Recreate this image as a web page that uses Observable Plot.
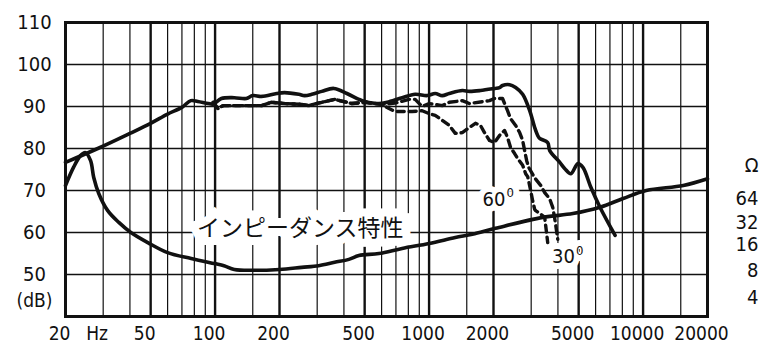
<!DOCTYPE html>
<html><head><meta charset="utf-8">
<script src="https://cdn.jsdelivr.net/npm/d3@7"></script>
<script src="https://cdn.jsdelivr.net/npm/@observablehq/plot@0.6"></script>
<style>body{margin:0;background:#fff} #chart{width:780px;height:361px}</style>
</head><body><div id="chart"></div>
<script>
const FONT = "'Liberation Sans Narrow','Arial Narrow','DejaVu Sans Condensed',sans-serif";
const CJK = "'Noto Sans CJK JP','Noto Sans CJK SC',sans-serif";

// axes
const xTicks = [20, 30, 50, 100, 200, 500, 1000, 2000, 5000, 10000, 20000];
const xTickLabels = ["20", "Hz", "50", "100", "200", "500", "1000", "2000", "5000", "10000", "20000"];
const yTicks = [50, 60, 70, 80, 90, 100, 110];
const yGrid = [50, 60, 70, 80, 90, 100];
const gridThin = [30, 40, 60, 70, 80, 90, 150, 300, 400, 600, 700, 800, 900, 1500, 3000, 4000, 6000, 7000, 8000, 9000, 15000];
const gridThick = [50, 100, 200, 500, 1000, 2000, 5000, 10000];
const ohmLabels = ["Ω", "64", "32", "16", "8", "4"];
const ohmLevels = [76, 68.1, 62.4, 57.1, 51, 44.5];

// on-axis frequency response (dB)
const respFreq = [20, 28.3, 40, 50, 60, 70, 77, 83, 93, 98, 107, 123, 140, 150, 165, 194, 211, 246, 262, 283, 315, 359, 413, 470, 501, 583, 636, 748, 861, 980, 1068, 1152, 1243, 1430, 1543, 1738, 2022, 2134, 2204, 2378, 2538, 2737, 2952, 3115, 3218, 3288, 3584, 3662, 4081, 4309, 4599, 4960, 5234, 5708, 6290, 7400];
const respDb = [76.7, 80, 83.6, 86, 88.2, 89.8, 91.4, 91.2, 90.7, 90.6, 91.9, 92.1, 91.9, 92.6, 92.4, 93.1, 93.3, 92.9, 92.6, 92.9, 93.6, 94.3, 93.1, 91.7, 91.2, 90.7, 91, 92.1, 92.9, 92.6, 93.1, 92.6, 93.1, 93.8, 93.6, 93.8, 94.3, 94.5, 95, 95.2, 94.5, 92.9, 89, 85, 83.1, 82.4, 81.4, 79.5, 76.7, 75.2, 74, 76.4, 75.5, 70.7, 66, 59.3];

// 30 degree response
const r30Freq = [98, 103, 109, 140, 165, 183, 211, 254, 274, 315, 362, 436, 501, 602, 693, 807, 861, 928, 1001, 1152, 1243, 1430, 1543, 1916, 2022, 2204, 2326, 2404, 2538, 2650, 2737, 2796, 2858, 2920, 3115, 3324, 3470, 3662, 3783, 3866, 3993];
const r30Db = [91, 89.5, 90.2, 90.2, 90.2, 91, 90.7, 90.5, 90.2, 91, 91.7, 90.7, 91, 90.5, 90.8, 91.7, 91.7, 90, 90.7, 90.2, 91, 91.4, 90.7, 91.4, 91.9, 91.9, 89, 87.1, 85.5, 83.8, 81.9, 79.5, 77.1, 75.5, 73, 71.2, 69.5, 68, 66, 63.3, 58.4];

// 60 degree response
const r60Freq = [98, 103, 109, 140, 165, 183, 211, 254, 274, 315, 362, 436, 501, 602, 650, 693, 833, 928, 1001, 1068, 1152, 1243, 1326, 1430, 1543, 1647, 1738, 1815, 1916, 2022, 2134, 2252, 2326, 2404, 2510, 2594, 2737, 2827, 2889, 2984, 3049, 3115, 3149, 3300, 3470, 3584];
const r60Db = [91, 89.5, 90.2, 90.2, 90.2, 91, 90.7, 90.5, 90.2, 91, 91.7, 90.7, 91, 90.5, 89.5, 88.8, 88.8, 89, 88.3, 87.9, 86.7, 85.5, 83.6, 83.8, 85, 86, 85.5, 83.8, 81.9, 81.4, 83.1, 84.3, 82.6, 80.2, 78.8, 77.6, 76, 74, 73.3, 70, 67.5, 65.5, 65.2, 64.5, 63.6, 57.6];

// impedance curve (drawn on dB grid)
const impFreq = [20, 21.8, 23.5, 24.8, 26.2, 27.1, 28.6, 31.5, 35.5, 40.4, 48.5, 60, 77.3, 99, 110, 123, 150, 200, 254, 305, 362, 422, 470, 583, 748, 1001, 1326, 1594, 2043, 3396, 4698, 6290, 8066, 10340, 15420, 20000];
const impDb = [71.2, 75.5, 78.3, 79, 77.1, 73.1, 69.3, 65.2, 62.4, 60, 57.6, 55.2, 53.8, 52.6, 52.1, 51.2, 51, 51.2, 51.7, 52.1, 52.9, 53.6, 54.5, 55, 56.2, 57.4, 58.8, 59.6, 61, 63.6, 64.5, 66, 68.1, 70, 71.2, 72.8];

// annotations
const impLabel = ["インピーダンス特性"];
const impLabelX = [250];
const impLabelY = [61];
const angleLabels = ["60", "30"];
const angleX = [2276, 4802];
const angleY = [67.9, 54.3];

const zip = (xs, ys) => xs.map((x, i) => ({x, y: ys[i]}));
const haloOnly = {fill: "white", stroke: "white", strokeLinejoin: "miter"};

const chart = Plot.plot({
  width: 780, height: 361,
  marginLeft: 65, marginRight: 73, marginTop: 22, marginBottom: 45,
  x: {type: "log", domain: [20, 20000], axis: null},
  y: {domain: [40, 110], axis: null},
  style: {fontFamily: FONT, background: "white", color: "#111"},
  marks: [
    Plot.ruleX(gridThin, {stroke: "#111", strokeWidth: 1.2}),
    Plot.ruleX(gridThick, {stroke: "#111", strokeWidth: 2.4}),
    Plot.ruleY(yGrid, {stroke: "#111", strokeWidth: 1.3}),
    // white backing behind labels
    Plot.text(impLabel, {x: impLabelX, y: impLabelY, text: d => d, fontFamily: CJK, fontSize: 23, strokeWidth: 16, ...haloOnly}),
    Plot.text(angleLabels, {x: angleX, y: angleY, text: d => d, textAnchor: "end", fontSize: 20, strokeWidth: 12, ...haloOnly}),
    Plot.text(angleLabels, {x: angleX, y: angleY, text: () => "0", textAnchor: "start", dx: 1, dy: -6, fontSize: 13, strokeWidth: 12, ...haloOnly}),
    // label text
    Plot.text(impLabel, {x: impLabelX, y: impLabelY, text: d => d, fontFamily: CJK, fontSize: 23, fill: "#111"}),
    Plot.text(angleLabels, {x: angleX, y: angleY, text: d => d, textAnchor: "end", fontSize: 20, fill: "#111"}),
    Plot.text(angleLabels, {x: angleX, y: angleY, text: () => "0", textAnchor: "start", dx: 1, dy: -6, fontSize: 13, fill: "#111"}),
    Plot.frame({stroke: "#111", strokeWidth: 3}),
    Plot.line(zip(impFreq, impDb), {x: "x", y: "y", stroke: "#111", strokeWidth: 3.6, curve: "catmull-rom", strokeLinejoin: "round", strokeLinecap: "round"}),
    Plot.line(zip(r60Freq, r60Db), {x: "x", y: "y", stroke: "#111", strokeWidth: 3.4, strokeDasharray: "7,5", strokeLinejoin: "round"}),
    Plot.line(zip(r30Freq, r30Db), {x: "x", y: "y", stroke: "#111", strokeWidth: 3.4, strokeDasharray: "8,5", strokeLinejoin: "round"}),
    Plot.line(zip(respFreq, respDb), {x: "x", y: "y", stroke: "#111", strokeWidth: 3.6, curve: "catmull-rom", strokeLinejoin: "round", strokeLinecap: "round"}),
    Plot.text(xTicks, {x: d => d, frameAnchor: "bottom", text: (d, i) => xTickLabels[i], dy: 23, dx: -6, fontSize: 19, fill: "#111"}),
    Plot.text(yTicks, {y: d => d, frameAnchor: "left", text: d => String(d), textAnchor: "middle", dx: -31, fontSize: 20, fill: "#111"}),
    Plot.text(["(dB)"], {frameAnchor: "left", y: [43.6], text: d => d, textAnchor: "middle", dx: -31, fontSize: 19, fill: "#111"}),
    Plot.text(ohmLabels, {frameAnchor: "right", y: ohmLevels, text: d => d, textAnchor: "end", dx: 51, fontSize: 20, fill: "#111"})
  ]
});
document.getElementById("chart").appendChild(chart);
</script>
</body></html>
